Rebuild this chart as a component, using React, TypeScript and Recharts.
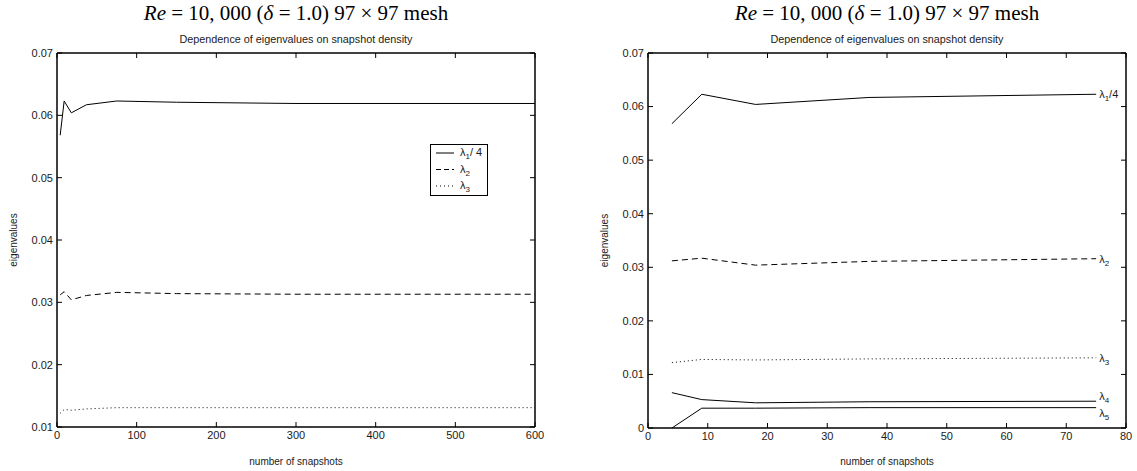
import { LineChart, Line, XAxis, YAxis, Legend } from 'recharts';

// snapshot counts and leading eigenvalues (λ1 is plotted divided by 4)
const snapshots = [4, 9, 18, 37, 75, 150, 300, 600];
const lambda1Quarter = [0.0568, 0.0623, 0.0604, 0.0617, 0.0623, 0.0621, 0.0619, 0.0619];
const lambda2 = [0.0312, 0.0317, 0.0304, 0.0311, 0.0316, 0.0314, 0.0313, 0.0313];
const lambda3 = [0.0122, 0.0128, 0.0127, 0.0129, 0.0131, 0.0131, 0.0131, 0.0131];

// the zoomed panel only goes up to 75 snapshots, but also shows λ4 and λ5
const fineSnapshots = [4, 9, 18, 37, 75];
const lambda4 = [0.0066, 0.0053, 0.0047, 0.0049, 0.005];
const lambda5 = [0.0, 0.0037, 0.0037, 0.0038, 0.0038];

const coarseXTicks = [0, 100, 200, 300, 400, 500, 600];
const coarseYTicks = [0.01, 0.02, 0.03, 0.04, 0.05, 0.06, 0.07];
const fineXTicks = [0, 10, 20, 30, 40, 50, 60, 70, 80];
const fineYTicks = [0, 0.01, 0.02, 0.03, 0.04, 0.05, 0.06, 0.07];

const coarseXDomain = [0, 600];
const coarseYDomain = [0.01, 0.07];
const fineXDomain = [0, 80];
const fineYDomain = [0, 0.07];

const coarseData = snapshots.map((n, i) => ({
  n,
  l1: lambda1Quarter[i],
  l2: lambda2[i],
  l3: lambda3[i],
}));

const fineData = fineSnapshots.map((n, i) => ({
  n,
  l1: lambda1Quarter[i],
  l2: lambda2[i],
  l3: lambda3[i],
  l4: lambda4[i],
  l5: lambda5[i],
}));

const sans = '"Liberation Sans", Arial, Helvetica, sans-serif';
const serif = '"Liberation Serif", "DejaVu Serif", "Times New Roman", serif';
const ink = '#1a1a1a';

const tickStyle = { fontSize: 11, fill: ink, fontFamily: sans };
const axisLine = { stroke: '#000', strokeWidth: 1.5 };
const tickLine = { stroke: '#000', strokeWidth: 1 };

const fmtY = (v: number) => (v === 0 ? '0' : v.toFixed(2));

const dashFor: Record<string, string | undefined> = {
  l1: undefined,
  l2: '6 4',
  l3: '1 3',
  l4: undefined,
  l5: undefined,
};

// plot rectangles inside the 1137x471 page
const coarsePlot = { x: 57, y: 53, w: 478, h: 374 };
const finePlot = { x: 648, y: 53, w: 478, h: 375 };

function Lambda({ x, y, sub, suffix }: { x: number; y: number; sub: string; suffix?: string }) {
  return (
    <text x={x} y={y} fontSize={11} fontFamily={sans} fill={ink}>
      λ
      <tspan fontSize={8} dy={3}>
        {sub}
      </tspan>
      {suffix ? <tspan dy={-3}>{suffix}</tspan> : null}
    </text>
  );
}

// name printed at the right end of each curve in the zoomed panel
function endLabel(sub: string, dy: number, suffix?: string) {
  return (props: any) => {
    if (props.index !== fineSnapshots.length - 1) return null;
    return <Lambda x={props.x + 3} y={props.y + dy} sub={sub} suffix={suffix} />;
  };
}

// top and right edges of the box, with inward ticks, drawn over the chart
function FrameEdges({ plot, xDomain, yDomain, xTicks, yTicks }: any) {
  const { x, y, w, h } = plot;
  const fx = (v: number) => x + ((v - xDomain[0]) / (xDomain[1] - xDomain[0])) * w;
  const fy = (v: number) => y + h - ((v - yDomain[0]) / (yDomain[1] - yDomain[0])) * h;
  return (
    <g>
      <line x1={x} x2={x + w} y1={y} y2={y} stroke="#000" strokeWidth={1.5} />
      <line x1={x + w} x2={x + w} y1={y} y2={y + h} stroke="#000" strokeWidth={1.5} />
      {xTicks.map((t: number) => (
        <line key={'t' + t} x1={fx(t)} x2={fx(t)} y1={y} y2={y + 5} stroke="#000" />
      ))}
      {yTicks.map((t: number) => (
        <line key={'r' + t} x1={x + w} x2={x + w - 5} y1={fy(t)} y2={fy(t)} stroke="#000" />
      ))}
    </g>
  );
}

const legendRows = [
  { key: 'l1', sub: '1', suffix: '/ 4' },
  { key: 'l2', sub: '2' },
  { key: 'l3', sub: '3' },
];

function BoxLegend() {
  return (
    <div
      style={{
        width: 58,
        height: 52,
        boxSizing: 'border-box',
        border: '1.3px solid #000',
        background: '#fff',
      }}
    >
      <svg width={56} height={50} style={{ display: 'block' }}>
        {legendRows.map((r, i) => {
          const y = 8 + i * 16.5;
          return (
            <g key={r.key}>
              <line
                x1={5}
                x2={23}
                y1={y}
                y2={y}
                stroke="#000"
                strokeWidth={1}
                strokeDasharray={r.key === 'l2' ? '5 3' : dashFor[r.key]}
              />
              <Lambda x={29} y={y + 3} sub={r.sub} suffix={r.suffix} />
            </g>
          );
        })}
      </svg>
    </div>
  );
}

function Titles({ left }: { left: number }) {
  return (
    <>
      <div
        style={{
          position: 'absolute',
          left,
          top: 1,
          width: 478,
          textAlign: 'center',
          fontFamily: serif,
          fontSize: 21,
          lineHeight: '25px',
          color: '#000',
          whiteSpace: 'nowrap',
        }}
      >
        <i>Re</i> = 10, 000 (<i>δ</i> = 1.0) 97 × 97 mesh
      </div>
      <div
        style={{
          position: 'absolute',
          left,
          top: 33,
          width: 478,
          textAlign: 'center',
          fontFamily: sans,
          fontSize: 10.8,
          lineHeight: '12px',
          color: ink,
          whiteSpace: 'nowrap',
        }}
      >
        Dependence of eigenvalues on snapshot density
      </div>
    </>
  );
}

const yLabel = {
  value: 'eigenvalues',
  angle: -90,
  position: 'insideLeft' as const,
  offset: 13,
  style: { textAnchor: 'middle' as const, fontSize: 10, fill: ink, fontFamily: sans },
};

const xLabel = {
  value: 'number of snapshots',
  position: 'insideBottom' as const,
  offset: 6,
  style: { fontSize: 10, fill: ink, fontFamily: sans },
};

function CoarseChart() {
  return (
    <LineChart width={568} height={471} data={coarseData} margin={{ top: 53, right: 33, bottom: 0, left: 0 }}>
      <XAxis
        dataKey="n"
        type="number"
        domain={coarseXDomain}
        ticks={coarseXTicks}
        interval={0}
        height={44}
        tickSize={-5}
        tickMargin={9}
        tick={tickStyle}
        axisLine={axisLine}
        tickLine={tickLine}
        label={xLabel}
      />
      <YAxis
        type="number"
        domain={coarseYDomain}
        ticks={coarseYTicks}
        interval={0}
        width={57}
        tickSize={-5}
        tickMargin={9}
        tickFormatter={fmtY}
        tick={tickStyle}
        axisLine={axisLine}
        tickLine={tickLine}
        label={yLabel}
      />
      <Legend
        layout="vertical"
        align="center"
        verticalAlign="middle"
        wrapperStyle={{ left: 430, top: 144, width: 58, height: 52 }}
        content={() => <BoxLegend />}
      />
      {['l1', 'l2', 'l3'].map((k) => (
        <Line
          key={k}
          type="linear"
          dataKey={k}
          stroke="#000"
          strokeWidth={1}
          strokeDasharray={dashFor[k]}
          dot={false}
          isAnimationActive={false}
        />
      ))}
    </LineChart>
  );
}

const fineSeries = [
  { key: 'l1', sub: '1', suffix: '/4', dy: 4 },
  { key: 'l2', sub: '2', dy: 4 },
  { key: 'l3', sub: '3', dy: 4 },
  { key: 'l4', sub: '4', dy: -1 },
  { key: 'l5', sub: '5', dy: 9 },
];

function FineChart() {
  return (
    <LineChart width={546} height={471} data={fineData} margin={{ top: 53, right: 11, bottom: 0, left: 0 }}>
      <XAxis
        dataKey="n"
        type="number"
        domain={fineXDomain}
        ticks={fineXTicks}
        interval={0}
        height={43}
        tickSize={-5}
        tickMargin={9}
        tick={tickStyle}
        axisLine={axisLine}
        tickLine={tickLine}
        label={xLabel}
      />
      <YAxis
        type="number"
        domain={fineYDomain}
        ticks={fineYTicks}
        interval={0}
        width={57}
        tickSize={-5}
        tickMargin={9}
        tickFormatter={fmtY}
        tick={tickStyle}
        axisLine={axisLine}
        tickLine={tickLine}
        label={yLabel}
      />
      {fineSeries.map((s) => (
        <Line
          key={s.key}
          type="linear"
          dataKey={s.key}
          stroke="#000"
          strokeWidth={1}
          strokeDasharray={dashFor[s.key]}
          dot={false}
          label={endLabel(s.sub, s.dy, s.suffix)}
          isAnimationActive={false}
        />
      ))}
    </LineChart>
  );
}

export default function App() {
  return (
    <div style={{ position: 'absolute', left: 0, top: 0, width: 1137, height: 471, background: '#fff' }}>
      <div style={{ position: 'absolute', left: 0, top: 0 }}>
        <CoarseChart />
      </div>
      <div style={{ position: 'absolute', left: 591, top: 0 }}>
        <FineChart />
      </div>
      <svg
        width={1137}
        height={471}
        style={{ position: 'absolute', left: 0, top: 0, pointerEvents: 'none' }}
      >
        <FrameEdges plot={coarsePlot} xDomain={coarseXDomain} yDomain={coarseYDomain} xTicks={coarseXTicks} yTicks={coarseYTicks} />
        <FrameEdges plot={finePlot} xDomain={fineXDomain} yDomain={fineYDomain} xTicks={fineXTicks} yTicks={fineYTicks} />
      </svg>
      <Titles left={57} />
      <Titles left={648} />
    </div>
  );
}
